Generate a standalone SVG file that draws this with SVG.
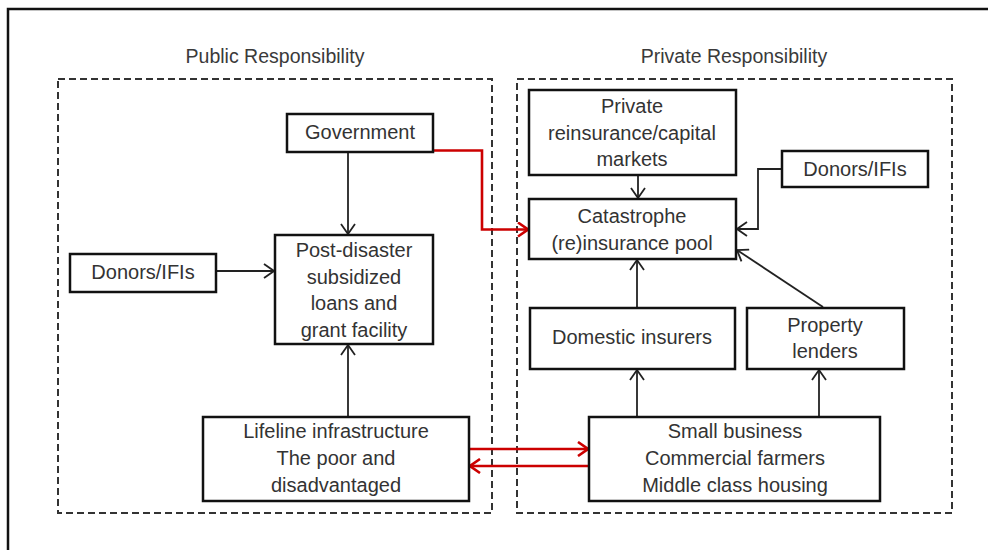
<svg xmlns="http://www.w3.org/2000/svg" width="988" height="550" viewBox="0 0 988 550">
  <style>
    .frame { fill: none; stroke: #111; stroke-width: 2.5; }
    .zone { fill: none; stroke: #333; stroke-width: 2; stroke-dasharray: 7 4; }
    .box { fill: #fff; stroke: #111; stroke-width: 2.5; }
    .lbl { font-family: "Liberation Sans", Arial, sans-serif; font-size: 20px; fill: #333; text-anchor: middle; }
    .title { font-family: "Liberation Sans", Arial, sans-serif; font-size: 19.5px; fill: #3a3a3a; text-anchor: middle; }
    .link { fill: none; stroke: #222; stroke-width: 1.8; }
    .red { fill: none; stroke: #cc0000; stroke-width: 2.6; }
  </style>
  <defs>
    <marker id="arrowBlack" viewBox="0 0 12 16" refX="11" refY="8" markerWidth="12" markerHeight="16" markerUnits="userSpaceOnUse" orient="auto">
      <path d="M1,1 L11,8 L1,15" fill="none" stroke="#222" stroke-width="1.8"/>
    </marker>
    <marker id="arrowRed" viewBox="0 0 12 16" refX="11" refY="8" markerWidth="12" markerHeight="16" markerUnits="userSpaceOnUse" orient="auto">
      <path d="M1,1 L11,8 L1,15" fill="none" stroke="#cc0000" stroke-width="2.6"/>
    </marker>
  </defs>

  <rect width="988" height="550" fill="#fff"/>

  <!-- outer frame: only top and left edges fall inside the canvas -->
  <path class="frame" d="M8,552 V9 H990"/>

  <!-- responsibility zones -->
  <g id="zone-public">
    <rect class="zone" x="58" y="79" width="434" height="434"/>
    <text class="title" x="275" y="63">Public Responsibility</text>
  </g>
  <g id="zone-private">
    <rect class="zone" x="517" y="79" width="435" height="434"/>
    <text class="title" x="734" y="63">Private Responsibility</text>
  </g>

  <!-- connectors -->
  <g id="connectors">
    <line class="link" x1="348" y1="152" x2="348" y2="234" marker-end="url(#arrowBlack)"/>
    <line class="link" x1="216" y1="271" x2="274" y2="271" marker-end="url(#arrowBlack)"/>
    <line class="link" x1="348" y1="417" x2="348" y2="345" marker-end="url(#arrowBlack)"/>
    <line class="link" x1="638" y1="175" x2="638" y2="198" marker-end="url(#arrowBlack)"/>
    <polyline class="link" points="782,169 758,169 758,229 737,229" marker-end="url(#arrowBlack)"/>
    <line class="link" x1="823" y1="307" x2="737" y2="250" marker-end="url(#arrowBlack)"/>
    <line class="link" x1="637" y1="308" x2="637" y2="260" marker-end="url(#arrowBlack)"/>
    <line class="link" x1="637" y1="417" x2="637" y2="370" marker-end="url(#arrowBlack)"/>
    <line class="link" x1="819" y1="417" x2="819" y2="370" marker-end="url(#arrowBlack)"/>
    <polyline class="red" points="433,150.5 482,150.5 482,229.5 528,229.5" marker-end="url(#arrowRed)"/>
    <line class="red" x1="469" y1="449" x2="588" y2="449" marker-end="url(#arrowRed)"/>
    <line class="red" x1="589" y1="466" x2="470" y2="466" marker-end="url(#arrowRed)"/>
  </g>

  <!-- public side -->
  <g id="government">
    <rect class="box" x="287" y="114" width="146" height="38"/>
    <text class="lbl" x="360" y="139">Government</text>
  </g>
  <g id="donors-public">
    <rect class="box" x="70" y="254" width="146" height="38"/>
    <text class="lbl" x="143" y="279">Donors/IFIs</text>
  </g>
  <g id="post-disaster-facility">
    <rect class="box" x="275" y="235" width="158" height="109"/>
    <text class="lbl" x="354" y="257">Post-disaster</text>
    <text class="lbl" x="354" y="284">subsidized</text>
    <text class="lbl" x="354" y="310">loans and</text>
    <text class="lbl" x="354" y="337">grant facility</text>
  </g>
  <g id="lifeline">
    <rect class="box" x="203" y="417" width="266" height="84"/>
    <text class="lbl" x="336" y="438">Lifeline infrastructure</text>
    <text class="lbl" x="336" y="465">The poor and</text>
    <text class="lbl" x="336" y="492">disadvantaged</text>
  </g>

  <!-- private side -->
  <g id="private-reinsurance">
    <rect class="box" x="529" y="90" width="207" height="85"/>
    <text class="lbl" x="632" y="113">Private</text>
    <text class="lbl" x="632" y="140">reinsurance/capital</text>
    <text class="lbl" x="632" y="166">markets</text>
  </g>
  <g id="donors-private">
    <rect class="box" x="782" y="151" width="146" height="36"/>
    <text class="lbl" x="855" y="176">Donors/IFIs</text>
  </g>
  <g id="catastrophe-pool">
    <rect class="box" x="529" y="199" width="207" height="60"/>
    <text class="lbl" x="632" y="223">Catastrophe</text>
    <text class="lbl" x="632" y="250">(re)insurance pool</text>
  </g>
  <g id="domestic-insurers">
    <rect class="box" x="530" y="308" width="205" height="61"/>
    <text class="lbl" x="632" y="344">Domestic insurers</text>
  </g>
  <g id="property-lenders">
    <rect class="box" x="747" y="308" width="157" height="61"/>
    <text class="lbl" x="825" y="332">Property</text>
    <text class="lbl" x="825" y="358">lenders</text>
  </g>
  <g id="small-business">
    <rect class="box" x="589" y="417" width="291" height="84"/>
    <text class="lbl" x="735" y="438">Small business</text>
    <text class="lbl" x="735" y="465">Commercial farmers</text>
    <text class="lbl" x="735" y="492">Middle class housing</text>
  </g>
</svg>
